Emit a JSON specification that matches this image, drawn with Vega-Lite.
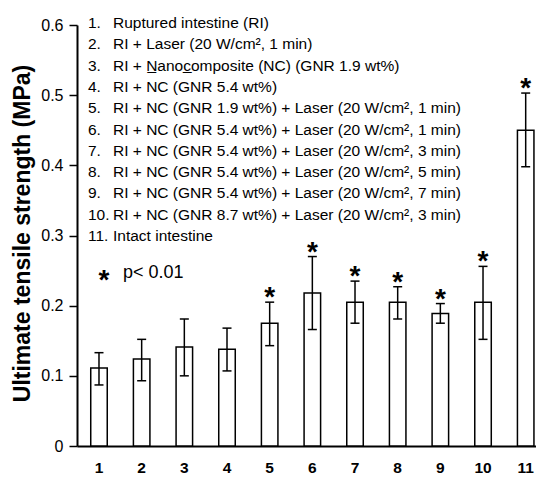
{
  "$schema": "https://vega.github.io/schema/vega-lite/v6.json",
  "width": 459,
  "height": 421,
  "autosize": {"type": "none"},
  "padding": {"left": 77, "top": 25, "right": 0, "bottom": 31},
  "background": "white",
  "config": {"view": {"stroke": null}, "font": "Liberation Sans"},
  "data": {"values": [
    {"group": 1, "mean": 0.111, "lo": 0.087, "hi": 0.133, "sig": ""},
    {"group": 2, "mean": 0.124, "lo": 0.093, "hi": 0.152, "sig": ""},
    {"group": 3, "mean": 0.141, "lo": 0.100, "hi": 0.181, "sig": ""},
    {"group": 4, "mean": 0.138, "lo": 0.107, "hi": 0.168, "sig": ""},
    {"group": 5, "mean": 0.175, "lo": 0.143, "hi": 0.205, "sig": "*"},
    {"group": 6, "mean": 0.218, "lo": 0.166, "hi": 0.270, "sig": "*"},
    {"group": 7, "mean": 0.205, "lo": 0.175, "hi": 0.235, "sig": "*"},
    {"group": 8, "mean": 0.205, "lo": 0.181, "hi": 0.227, "sig": "*"},
    {"group": 9, "mean": 0.189, "lo": 0.175, "hi": 0.203, "sig": "*"},
    {"group": 10, "mean": 0.205, "lo": 0.152, "hi": 0.256, "sig": "*"},
    {"group": 11, "mean": 0.450, "lo": 0.398, "hi": 0.503, "sig": "*"}
  ]},
  "encoding": {
    "x": {
      "field": "group", "type": "ordinal",
      "scale": {"paddingInner": 0.613, "paddingOuter": 0.185, "align": 0.87},
      "axis": {"title": null, "labelAngle": 0, "labelFontSize": 15.5, "labelFontWeight": "bold", "labelColor": "black", "ticks": false, "labelPadding": 14, "domainColor": "black", "domainWidth": 2}
    }
  },
  "layer": [
    {
      "mark": {"type": "bar", "fill": "white", "stroke": "black", "strokeWidth": 1.5},
      "encoding": {
        "y": {
          "field": "mean", "type": "quantitative",
          "scale": {"domain": [0, 0.6], "nice": false, "zero": true},
          "axis": {"title": "Ultimate tensile strength (MPa)", "values": [0, 0.1, 0.2, 0.3, 0.4, 0.5, 0.6], "format": ".1~f", "grid": false, "domainColor": "black", "domainWidth": 2, "tickColor": "black", "tickWidth": 1.5, "tickSize": 8, "labelFontSize": 16, "labelColor": "black", "labelPadding": 6, "titleFontSize": 23, "titleFontWeight": "bold", "titleColor": "black", "titleX": -48, "titleY": 208, "titleAngle": -90, "titleBaseline": "alphabetic", "titleAlign": "center"}
        }
      }
    },
    {
      "mark": {"type": "rule", "color": "black", "strokeWidth": 1.5},
      "encoding": {
        "y": {"field": "lo", "type": "quantitative"},
        "y2": {"field": "hi"}
      }
    },
    {
      "mark": {"type": "tick", "color": "black", "size": 9, "thickness": 1.5, "opacity": 1},
      "encoding": {"y": {"field": "hi", "type": "quantitative"}}
    },
    {
      "mark": {"type": "tick", "color": "black", "size": 9, "thickness": 1.5, "opacity": 1},
      "encoding": {"y": {"field": "lo", "type": "quantitative"}}
    },
    {
      "mark": {"type": "text", "fontSize": 28, "fontWeight": "bold", "baseline": "alphabetic", "dy": 4, "color": "black"},
      "encoding": {
        "y": {"field": "hi", "type": "quantitative"},
        "text": {"field": "sig"}
      }
    },
    {
      "data": {"values": [{}]},
      "mark": {"type": "text", "align": "left", "baseline": "alphabetic", "fontSize": 15.5, "lineHeight": 21.3, "dx": -11, "dy": 3, "color": "black",
        "text": ["1.", "2.", "3.", "4.", "5.", "6.", "7.", "8.", "9.", "10.", "11."]},
      "encoding": {"x": {"datum": 1}, "y": {"datum": 0.6}}
    },
    {
      "data": {"values": [{}]},
      "mark": {"type": "text", "align": "left", "baseline": "alphabetic", "fontSize": 15.5, "lineHeight": 21.3, "dx": 14, "dy": 3, "color": "black",
        "text": [
          "Ruptured intestine (RI)",
          "RI + Laser (20 W/cm², 1 min)",
          "RI + N\u0332anoc\u0332omposite (NC) (GNR 1.9 wt%)",
          "RI + NC (GNR 5.4 wt%)",
          "RI + NC (GNR 1.9 wt%) + Laser (20 W/cm², 1 min)",
          "RI + NC (GNR 5.4 wt%) + Laser (20 W/cm², 1 min)",
          "RI + NC (GNR 5.4 wt%) + Laser (20 W/cm², 3 min)",
          "RI + NC (GNR 5.4 wt%) + Laser (20 W/cm², 5 min)",
          "RI + NC (GNR 5.4 wt%) + Laser (20 W/cm², 7 min)",
          "RI + NC (GNR 8.7 wt%) + Laser (20 W/cm², 3 min)",
          "Intact intestine"
        ]},
      "encoding": {"x": {"datum": 1}, "y": {"datum": 0.6}}
    },
    {
      "data": {"values": [{}]},
      "mark": {"type": "text", "align": "center", "baseline": "alphabetic", "fontSize": 28, "fontWeight": "bold", "dx": 5, "dy": 18, "color": "black", "text": "*"},
      "encoding": {"x": {"datum": 1}, "y": {"datum": 0.25}}
    },
    {
      "data": {"values": [{}]},
      "mark": {"type": "text", "align": "left", "baseline": "middle", "fontSize": 18, "dx": 24, "dy": 2.5, "color": "black", "text": "p< 0.01"},
      "encoding": {"x": {"datum": 1}, "y": {"datum": 0.25}}
    }
  ]
}
